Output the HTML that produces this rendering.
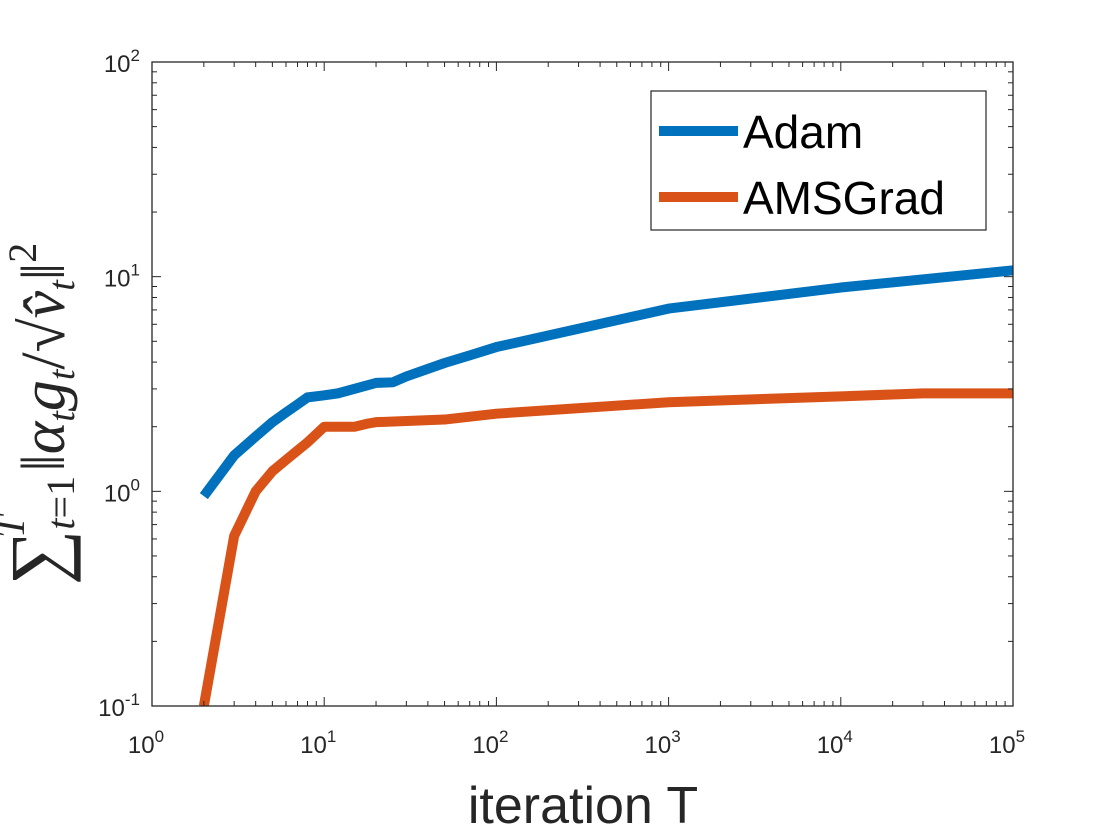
<!DOCTYPE html>
<html><head><meta charset="utf-8"><style>body{margin:0;background:#fff}svg{display:block}</style></head>
<body>
<svg id="chart" width="1120" height="840" xmlns="http://www.w3.org/2000/svg" font-family="Liberation Sans, sans-serif">
<rect width="1120" height="840" fill="#fff"/>
<defs><clipPath id="c"><rect x="152" y="62" width="861" height="644"/></clipPath></defs>
<g id="marks" clip-path="url(#c)"></g>
<g id="axes"></g>
<g>
<rect x="651" y="91" width="335" height="139" fill="#fff" stroke="#262626" stroke-width="1.2"/>
<line x1="659" y1="131" x2="738" y2="131" stroke="#0072BD" stroke-width="10"/>
<text x="743" y="148" font-size="46" fill="#000">Adam</text>
<line x1="659" y1="197" x2="738" y2="197" stroke="#D95319" stroke-width="10"/>
<text x="743" y="214" font-size="46" fill="#000">AMSGrad</text>
</g>
<text x="583" y="823" font-size="52" text-anchor="middle" fill="#262626">iteration T</text>
<g transform="translate(64,414) rotate(-90)">
<text x="0" y="0" text-anchor="middle" font-family="Liberation Serif, serif" fill="#262626" font-size="62"><tspan font-size="78">∑</tspan><tspan font-style="italic" font-size="40" dy="10">t</tspan><tspan font-size="40">=1</tspan><tspan font-style="italic" font-size="40" dx="-62" dy="-50">T</tspan><tspan dx="44" dy="40">‖</tspan><tspan font-style="italic">α</tspan><tspan font-style="italic" font-size="38" dy="10">t</tspan><tspan font-style="italic" dy="-10">g</tspan><tspan font-style="italic" font-size="38" dy="10">t</tspan><tspan dy="-10">/√</tspan><tspan font-style="italic">v̂</tspan><tspan font-style="italic" font-size="38" dy="10">t</tspan><tspan dy="-10">‖</tspan><tspan font-size="40" dy="-28">2</tspan></text>
</g>
<script>
const iterAdam = [2,3,4,5,6,7,8,10,12,20,25,30,50,70,100,1000,10000,100000];
const valAdam = [0.95,1.47,1.8,2.1,2.33,2.54,2.74,2.8,2.86,3.2,3.22,3.43,3.96,4.3,4.7,7.1,8.9,10.7];
const iterAms = [2,3,4,5,6,7,8,10,15,18,20,50,100,1000,10000,30000,100000];
const valAms = [0.1,0.62,1.0,1.24,1.4,1.55,1.69,2.0,2.0,2.07,2.1,2.16,2.3,2.6,2.77,2.86,2.86];
const xTickExp = [0,1,2,3,4,5];
const yTickExp = [-1,0,1,2];
const L=152,R=1013,T=62,B=706;
const xs=v=>L+Math.log10(v)/5*(R-L);
const ys=v=>B-(Math.log10(v)+1)/3*(B-T);
const NS='http://www.w3.org/2000/svg';
const marks=document.getElementById('marks'),axes=document.getElementById('axes');
function mk(tag,attrs,parent){const e=document.createElementNS(NS,tag);for(const k in attrs)e.setAttribute(k,attrs[k]);parent.appendChild(e);return e;}
function line(xv,yv,color,name){
  const p=mk('polyline',{points:xv.map((x,i)=>xs(x)+','+ys(yv[i])).join(' '),fill:'none',stroke:color,'stroke-width':10,'stroke-linejoin':'round'},marks);
  
  
}
line(iterAdam,valAdam,'#0072BD','series-adam');
line(iterAms,valAms,'#D95319','series-amsgrad');
mk('rect',{x:L,y:T,width:R-L,height:B-T,fill:'none',stroke:'#262626','stroke-width':1.3},axes);
function lbl(x,y,e,anchor){
  const t=mk('text',{x:x,y:y,'font-size':24,'text-anchor':anchor,fill:'#262626'},axes);
  t.appendChild(document.createTextNode('10'));
  const s=mk('tspan',{'font-size':17,dy:-11},t);s.textContent=String(e);
  
  
}
xTickExp.forEach(e=>{
  for(let m=1;m<10;m++){ if(e===5&&m>1)break;
    const x=xs(m*Math.pow(10,e)), len=m===1?9:5;
    mk('line',{x1:x,y1:B,x2:x,y2:B-len,stroke:'#262626'},axes);
    mk('line',{x1:x,y1:T,x2:x,y2:T+len,stroke:'#262626'},axes);
  }
  lbl(xs(Math.pow(10,e))-6,B+47,e,'middle');
});
yTickExp.forEach(e=>{
  for(let m=1;m<10;m++){ if(e===2&&m>1)break;
    const y=ys(m*Math.pow(10,e)), len=m===1?9:5;
    mk('line',{x1:L,y1:y,x2:L+len,y2:y,stroke:'#262626'},axes);
    mk('line',{x1:R,y1:y,x2:R-len,y2:y,stroke:'#262626'},axes);
  }
  lbl(L-12,ys(Math.pow(10,e))+10,e,'end');
});
</script>
</svg>
</body></html>
